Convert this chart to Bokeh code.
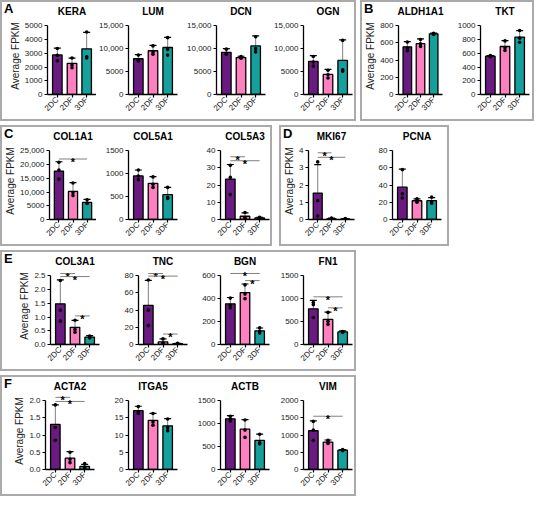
from math import pi
from bokeh.plotting import figure
from bokeh.models import (FactorRange, FixedTicker, ColumnDataSource, Whisker,
                          TeeHead, Range1d, Div)
from bokeh.layouts import row, column
from bokeh.embed import file_html
from bokeh.resources import INLINE
from bokeh.core.properties import value

GROUPS = ["2DC", "2DF", "3DF"]
COLORS = ["#6a1b80", "#ff80c0", "#16a09b"]
YLABEL = "Average FPKM"

# ---- data (mean, SD, individual replicates, y ticks) ----
KERA_MEAN = [2880, 2270, 3320]
KERA_SD = [500, 380, 1200]
KERA_PTS = [[3350, 2850, 2450], [2650, 2150, 1950], [4550, 2750, 2650]]
KERA_TICKS = [0, 1000, 2000, 3000, 4000, 5000]

LUM_MEAN = [7800, 9550, 10250]
LUM_SD = [900, 1150, 2200]
LUM_PTS = [[8600, 7500, 7300], [10600, 9300, 8800], [12400, 9800, 8600]]
LUM_TICKS = [0, 5000, 10000, 15000]

DCN_MEAN = [9200, 8050, 10600]
DCN_SD = [800, 300, 2200]
DCN_PTS = [[9900, 9000, 8800], [8300, 8000, 7900], [12600, 10000, 9300]]
DCN_TICKS = [0, 5000, 10000, 15000]

OGN_MEAN = [7220, 4390, 7430]
OGN_SD = [1250, 1100, 4500]
OGN_PTS = [[8300, 7100, 6200], [5300, 4300, 3600], [11800, 5400, 5100]]
OGN_TICKS = [0, 5000, 10000, 15000]

ALDH1A1_MEAN = [555, 592, 706]
ALDH1A1_SD = [60, 55, 8]
ALDH1A1_PTS = [[610, 540, 510], [640, 590, 560], [712, 703, 698]]
ALDH1A1_TICKS = [0, 200, 400, 600, 800]

TKT_MEAN = [557, 698, 835]
TKT_SD = [8, 85, 95]
TKT_PTS = [[565, 555, 550], [780, 680, 640], [930, 820, 760]]
TKT_TICKS = [0, 200, 400, 600, 800, 1000]

COL1A1_MEAN = [17600, 10200, 6200]
COL1A1_SD = [3400, 3200, 1100]
COL1A1_PTS = [[20800, 18000, 14700], [13300, 9700, 8700], [7200, 6000, 5800]]
COL1A1_TICKS = [0, 5000, 10000, 15000, 20000, 25000]

COL5A1_MEAN = [950, 790, 542]
COL5A1_SD = [130, 145, 160]
COL5A1_PTS = [[1080, 950, 870], [930, 770, 700], [700, 480, 460]]
COL5A1_TICKS = [0, 500, 1000, 1500]

COL5A3_MEAN = [23.5, 1.9, 0.9]
COL5A3_SD = [8.5, 2.0, 0.4]
COL5A3_PTS = [[31.5, 24.5, 14.5], [4.1, 1.0, 0.5], [1.3, 0.8, 0.6]]
COL5A3_TICKS = [0, 10, 20, 30, 40]

MKI67_MEAN = [1.54, 0.05, 0.03]
MKI67_SD = [1.65, 0.03, 0.02]
MKI67_PTS = [[3.35, 1.1, 0.2], [0.08, 0.05, 0.03], [0.05, 0.03, 0.02]]
MKI67_TICKS = [0, 1, 2, 3, 4]

PCNA_MEAN = [37.6, 21.8, 22.0]
PCNA_SD = [21.0, 2.2, 3.5]
PCNA_PTS = [[58, 30, 25], [24, 22, 20], [26, 21, 19]]
PCNA_TICKS = [0, 20, 40, 60, 80]

COL3A1_MEAN = [1.48, 0.625, 0.27]
COL3A1_SD = [0.87, 0.25, 0.05]
COL3A1_PTS = [[2.33, 1.25, 0.85], [0.88, 0.55, 0.45], [0.31, 0.26, 0.24]]
COL3A1_TICKS = [0.0, 0.5, 1.0, 1.5, 2.0, 2.5]

TNC_MEAN = [45.6, 3.0, 1.1]
TNC_SD = [29.0, 3.5, 0.3]
TNC_PTS = [[75, 40, 22], [6.5, 1.8, 0.8], [1.3, 1.0, 0.9]]
TNC_TICKS = [0, 20, 40, 60, 80]

BGN_MEAN = [355, 453, 119]
BGN_SD = [55, 75, 25]
BGN_PTS = [[405, 340, 320], [520, 440, 400], [145, 115, 100]]
BGN_TICKS = [0, 200, 400, 600]

FN1_MEAN = [778, 550, 275]
FN1_SD = [185, 155, 21]
FN1_PTS = [[915, 870, 590], [700, 510, 440], [285, 275, 265]]
FN1_TICKS = [0, 500, 1000, 1500]

ACTA2_MEAN = [1.31, 0.33, 0.09]
ACTA2_SD = [0.57, 0.19, 0.06]
ACTA2_PTS = [[1.88, 1.22, 0.85], [0.50, 0.30, 0.20], [0.17, 0.07, 0.04]]
ACTA2_TICKS = [0.0, 0.5, 1.0, 1.5, 2.0]

ITGA5_MEAN = [17.1, 14.3, 12.7]
ITGA5_SD = [1.3, 2.0, 2.1]
ITGA5_PTS = [[18.3, 16.8, 16.3], [16.3, 13.8, 12.9], [14.7, 12.2, 11.3]]
ITGA5_TICKS = [0, 5, 10, 15, 20]

ACTB_MEAN = [1106, 880, 634]
ACTB_SD = [70, 210, 140]
ACTB_PTS = [[1160, 1100, 1060], [1080, 860, 700], [770, 580, 560]]
ACTB_TICKS = [0, 500, 1000, 1500]

VIM_MEAN = [1127, 798, 563]
VIM_SD = [290, 60, 15]
VIM_PTS = [[1400, 1150, 850], [850, 790, 760], [580, 560, 550]]
VIM_TICKS = [0, 500, 1000, 1500, 2000]

# significance brackets: (from group, to group, bracket height)
SIG_COL1A1 = [("2DC", "3DF", 22000)]
SIG_COL5A3 = [("2DC", "2DF", 36.5), ("2DC", "3DF", 34.2)]
SIG_MKI67 = [("2DC", "2DF", 3.88), ("2DC", "3DF", 3.62)]
SIG_COL3A1 = [("2DC", "2DF", 2.58), ("2DC", "3DF", 2.47), ("2DF", "3DF", 1.04)]
SIG_TNC = [("2DC", "2DF", 82.6), ("2DC", "3DF", 79.6), ("2DF", "3DF", 12.2)]
SIG_BGN = [("2DC", "3DF", 620), ("2DF", "3DF", 558)]
SIG_FN1 = [("2DC", "3DF", 1040), ("2DF", "3DF", 800)]
SIG_ACTA2 = [("2DC", "2DF", 2.10), ("2DC", "3DF", 1.98)]
SIG_VIM = [("2DC", "3DF", 1550)]

FONT = "Liberation Sans"
H = 117
TOP = 14
BOT = 25
FRAME_W = 49
HEADROOM = 1.12


def fmt(v):
    if isinstance(v, float):
        return f"{v:.1f}"
    return f"{v:,}" if v >= 10000 else str(v)


def panel(name, mean, sd, pts, ticks, sigs, w, left, ylabel=False):
    top_val = ticks[-1]
    p = figure(width=w, height=H,
               x_range=FactorRange(factors=GROUPS, range_padding=0.17,
                                   range_padding_units="absolute"),
               y_range=Range1d(0, top_val * HEADROOM),
               output_backend="svg", toolbar_location=None,
               min_border_left=left, min_border_right=w - left - FRAME_W,
               min_border_top=TOP, min_border_bottom=BOT, title=name)
    p.title.align = "center"
    p.title.text_font = FONT
    p.title.text_font_size = "10px"
    p.title.text_font_style = "bold"
    p.title.text_color = "black"
    p.title.standoff = 2
    p.outline_line_color = None
    p.xgrid.visible = False
    p.ygrid.visible = False
    p.background_fill_color = "white"
    p.border_fill_color = "white"

    src = ColumnDataSource(dict(
        x=GROUPS, mean=mean, color=COLORS,
        upper=[m + s for m, s in zip(mean, sd)],
        lower=[max(m - s, 0) for m, s in zip(mean, sd)]))
    p.vbar(x="x", top="mean", width=0.65, source=src, fill_color="color",
           line_color="black", line_width=1.3)
    p.add_layout(Whisker(source=src, base="x", upper="upper", lower="lower",
                         line_color="#808080", line_width=1,
                         upper_head=TeeHead(size=7, line_color="black", line_width=1.2),
                         lower_head=TeeHead(size=7, line_color="black", line_width=1.2)))
    px = [g for g, vals in zip(GROUPS, pts) for _ in vals]
    py = [v for vals in pts for v in vals]
    p.scatter(px, py, size=3.6, fill_color="black", line_color=None)

    for g0, g1, yv in sigs:
        i0, i1 = GROUPS.index(g0), GROUPS.index(g1)
        p.segment(x0=[g0], y0=[yv], x1=[g1], y1=[yv], line_color="#808080", line_width=1)
        p.text(x=[(g0, (i1 - i0) / 2)], y=[yv], text=["*"], text_align="center",
               text_baseline="alphabetic", y_offset=3, text_font=value(FONT),
               text_font_size="11px", text_font_style="bold", text_color="black")

    ya = p.yaxis[0]
    ya.ticker = FixedTicker(ticks=ticks)
    ya.major_label_overrides = {t: fmt(t) for t in ticks}
    ya.bounds = (0, top_val)
    ya.axis_line_width = 1.3
    ya.axis_line_color = "black"
    ya.major_tick_out = 3
    ya.major_tick_in = 0
    ya.major_tick_line_width = 1.2
    ya.minor_tick_line_color = None
    ya.major_label_text_font = FONT
    ya.major_label_text_font_size = "8px"
    ya.major_label_text_color = "#222222"
    ya.major_label_standoff = 2
    if ylabel:
        ya.axis_label = YLABEL
        ya.axis_label_text_font = FONT
        ya.axis_label_text_font_size = "10px"
        ya.axis_label_text_font_style = "normal"
        ya.axis_label_text_color = "#222222"
        ya.axis_label_standoff = 1

    xa = p.xaxis[0]
    xa.axis_line_width = 1.3
    xa.axis_line_color = "black"
    xa.major_tick_out = 3
    xa.major_tick_in = 0
    xa.major_tick_line_width = 1.2
    xa.major_label_orientation = pi / 4
    xa.major_label_text_font = FONT
    xa.major_label_text_font_size = "8px"
    xa.major_label_text_color = "#222222"
    xa.major_label_standoff = 1
    return p


BOX = {"border": "2px solid #aaaaaa"}
LETTER_STYLE = {"font-family": "Liberation Sans", "font-weight": "bold",
                "font-size": "13px", "line-height": "13px", "color": "black",
                "overflow": "visible", "z-index": "5", "padding-left": "2px",
                "height": "0px", "min-height": "0px", "max-height": "0px",
                "margin": "0px"}


def box(letter, figs):
    inner_w = sum(f.width for f in figs)
    tag = Div(text=letter, width=inner_w, height=0, margin=(0, 0, 0, 0),
              styles=LETTER_STYLE)
    return column([tag, row(figs, spacing=0)], spacing=0, styles=BOX)


box_a = box("A", [
    panel("KERA", KERA_MEAN, KERA_SD, KERA_PTS, KERA_TICKS, [], 94, 45, True),
    panel("LUM", LUM_MEAN, LUM_SD, LUM_PTS, LUM_TICKS, [], 88, 32),
    panel("DCN", DCN_MEAN, DCN_SD, DCN_PTS, DCN_TICKS, [], 87, 32),
    panel("OGN", OGN_MEAN, OGN_SD, OGN_PTS, OGN_TICKS, [], 83, 32),
])
box_b = box("B", [
    panel("ALDH1A1", ALDH1A1_MEAN, ALDH1A1_SD, ALDH1A1_PTS, ALDH1A1_TICKS, [], 87, 31, True),
    panel("TKT", TKT_MEAN, TKT_SD, TKT_PTS, TKT_TICKS, [], 83, 31),
])
box_c = box("C", [
    panel("COL1A1", COL1A1_MEAN, COL1A1_SD, COL1A1_PTS, COL1A1_TICKS, SIG_COL1A1, 94, 45, True),
    panel("COL5A1", COL5A1_MEAN, COL5A1_SD, COL5A1_PTS, COL5A1_TICKS, [], 92, 32),
    panel("COL5A3", COL5A3_MEAN, COL5A3_SD, COL5A3_PTS, COL5A3_TICKS, SIG_COL5A3, 82, 32),
])
box_d = box("D", [
    panel("MKI67", MKI67_MEAN, MKI67_SD, MKI67_PTS, MKI67_TICKS, SIG_MKI67, 79, 24, True),
    panel("PCNA", PCNA_MEAN, PCNA_SD, PCNA_PTS, PCNA_TICKS, [], 87, 32),
])
box_e = box("E", [
    panel("COL3A1", COL3A1_MEAN, COL3A1_SD, COL3A1_PTS, COL3A1_TICKS, SIG_COL3A1, 104, 48, True),
    panel("TNC", TNC_MEAN, TNC_SD, TNC_PTS, TNC_TICKS, SIG_TNC, 82, 32),
    panel("BGN", BGN_MEAN, BGN_SD, BGN_PTS, BGN_TICKS, SIG_BGN, 83, 32),
    panel("FN1", FN1_MEAN, FN1_SD, FN1_PTS, FN1_TICKS, SIG_FN1, 83, 32),
])
box_f = box("F", [
    panel("ACTA2", ACTA2_MEAN, ACTA2_SD, ACTA2_PTS, ACTA2_TICKS, SIG_ACTA2, 94, 43, True),
    panel("ITGA5", ITGA5_MEAN, ITGA5_SD, ITGA5_PTS, ITGA5_TICKS, [], 92, 32),
    panel("ACTB", ACTB_MEAN, ACTB_SD, ACTB_PTS, ACTB_TICKS, [], 83, 32),
    panel("VIM", VIM_MEAN, VIM_SD, VIM_PTS, VIM_TICKS, SIG_VIM, 83, 32),
])

root = column([
    row([box_a, box_b], spacing=4),
    row([box_c, box_d], spacing=7),
    box_e,
    box_f,
], spacing=4)

open("out.html", "w").write(file_html(root, INLINE))
